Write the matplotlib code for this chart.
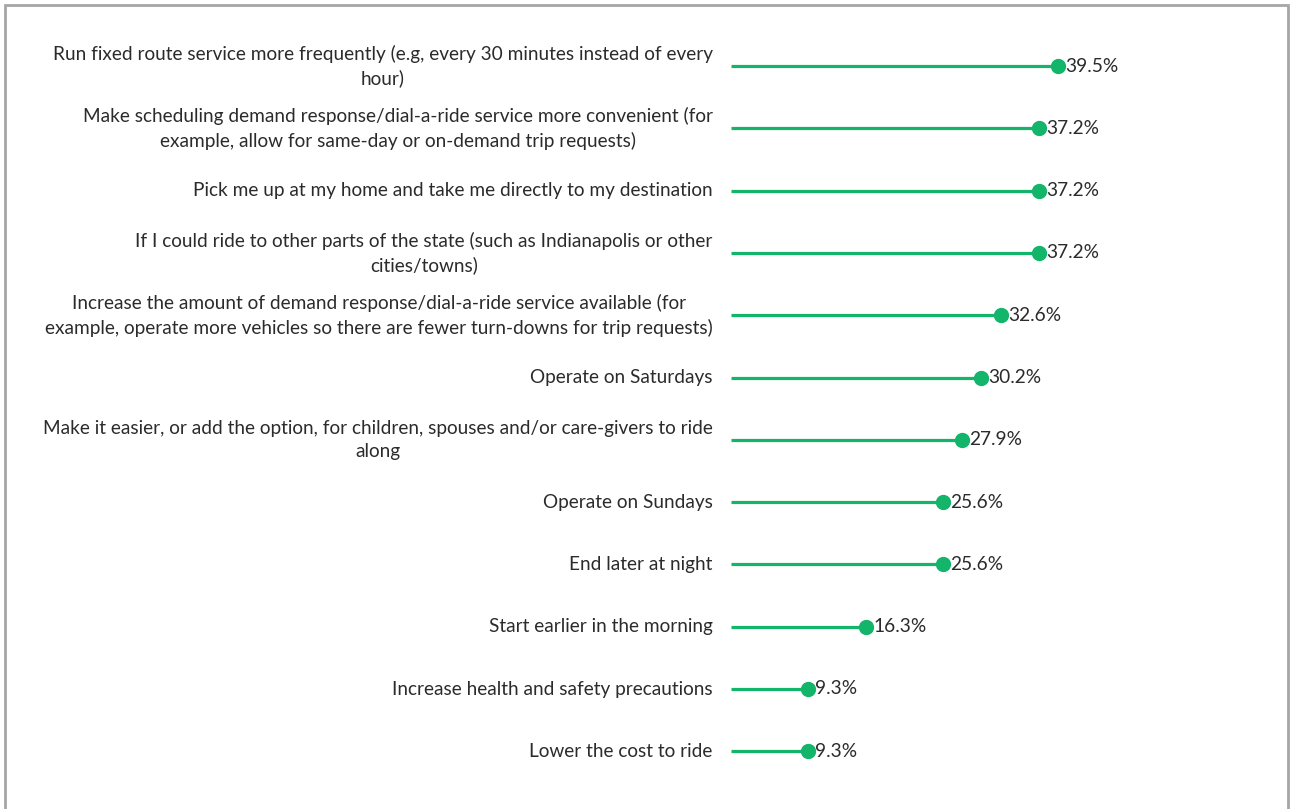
import matplotlib.pyplot as plt
from matplotlib.patches import Rectangle

categories = [
    "Run fixed route service more frequently (e.g, every 30 minutes instead of every\nhour)",
    "Make scheduling demand response/dial-a-ride service more convenient (for\nexample, allow for same-day or on-demand trip requests)",
    "Pick me up at my home and take me directly to my destination",
    "If I could ride to other parts of the state (such as Indianapolis or other\ncities/towns)",
    "Increase the amount of demand response/dial-a-ride service available (for\nexample, operate more vehicles so there are fewer turn-downs for trip requests)",
    "Operate on Saturdays",
    "Make it easier, or add the option, for children, spouses and/or care-givers to ride\nalong",
    "Operate on Sundays",
    "End later at night",
    "Start earlier in the morning",
    "Increase health and safety precautions",
    "Lower the cost to ride",
]
values = [39.5, 37.2, 37.2, 37.2, 32.6, 30.2, 27.9, 25.6, 25.6, 16.3, 9.3, 9.3]

GREEN = "#13B56B"
TEXT = "#2B2B2B"
W, H = 1293, 809

plt.rcParams["font.family"] = ["Lato", "DejaVu Sans"]

fig = plt.figure(figsize=(W / 100, H / 100), dpi=100)
fig.patch.set_facecolor("white")

# outer frame
fig.add_artist(Rectangle((5 / W, -0.01), (1283) / W, 1.0 - 5 / H + 0.01,
                         transform=fig.transFigure, fill=False,
                         edgecolor="#A6A6A6", linewidth=2))

x0_px, x1_px = 731, 1288
ax = fig.add_axes([x0_px / W, 0, (x1_px - x0_px) / W, 1])
px_per_unit = 8.28
ax.set_xlim(0, (x1_px - x0_px) / px_per_unit)
row0, step = 66, 62.3
ax.set_ylim((H - row0) / step, -row0 / step)
ax.axis("off")

for i, (cat, v) in enumerate(zip(categories, values)):
    ax.plot([0, v], [i, i], color=GREEN, linewidth=2.3, solid_capstyle="butt", zorder=2)
    ax.plot([v], [i], marker="o", markersize=10, color=GREEN, zorder=3)
    ax.text(v + 0.85, i, f"{v:.1f}%", ha="left", va="center",
            fontsize=13.8, color=TEXT)
    ax.text(-2.2, i, cat, ha="right", va="center", multialignment="center",
            fontsize=13.7, color=TEXT, linespacing=1.45)

fig.savefig("out.png", dpi=100, facecolor="white")
